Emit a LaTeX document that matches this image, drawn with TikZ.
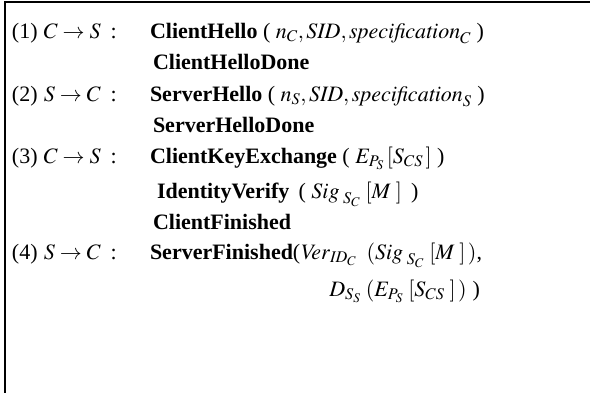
\documentclass[tikz,border=0pt]{standalone}
\usepackage{mathptmx}
\usepackage{fontspec}
\setmainfont{Liberation Serif}
\usepackage{tikz}

\tikzset{
  msgline/.style={anchor=base west, inner sep=0pt, outer sep=0pt,
    font=\fontsize{22}{26}\selectfont},
  frameline/.style={line width=2pt, black}
}

\begin{document}
\begin{tikzpicture}[x=1pt, y=1pt]
  \useasboundingbox (0,0) rectangle (590,-392);
  \clip (0,0) rectangle (590,-392);
  \draw[frameline] (5,-2) rectangle (640,-440);
  % step labels
  \node[msgline] (n1) at (12,-38)  {(1)\;$C \rightarrow S$\;\,:};
  \node[msgline] (n2) at (12,-101) {(2)\;$S \rightarrow C$\;\,:};
  \node[msgline] (n3) at (12,-163) {(3)\;$C \rightarrow S$\;\,:};
  \node[msgline] (n4) at (12,-259) {(4)\;$S \rightarrow C$\;\,:};
  % handshake messages
  \node[msgline] (l1) at (150,-38)
    {\textbf{ClientHello} ( $n_{C}{,}\,\mathit{SID}{,}\,\mathit{specification}_{C}$ )};
  \node[msgline] (l2) at (153,-69) {\textbf{ClientHelloDone}};
  \node[msgline] (l3) at (150,-101)
    {\textbf{ServerHello} ( $n_{S}{,}\,\mathit{SID}{,}\,\mathit{specification}_{S}$ )};
  \node[msgline] (l4) at (153,-132) {\textbf{ServerHelloDone}};
  \node[msgline] (l5) at (150,-163)
    {\textbf{ClientKeyExchange} ( $E_{P_{S}}\,[S_{CS}\,]$ )};
  \node[msgline] (l6) at (157,-198)
    {\textbf{IdentityVerify}\, ( $\mathit{Sig}_{\;S_{C}}\;[M\;]$\, )};
  \node[msgline] (l7) at (153,-229) {\textbf{ClientFinished}};
  \node[msgline] (l8) at (150,-259)
    {\textbf{ServerFinished}($\mathit{Ver}_{\mathit{ID}_{C}}\;\;(\mathit{Sig}_{\;S_{C}}\;[M\;]\,)$,};
  \node[msgline, anchor=base east] (l9) at ([xshift=-2pt, yshift=-37pt]l8.base east)
    {$D_{S_{S}}\;(E_{P_{S}}\;[S_{CS}\;]\,)$\;)};
\end{tikzpicture}
\end{document}
